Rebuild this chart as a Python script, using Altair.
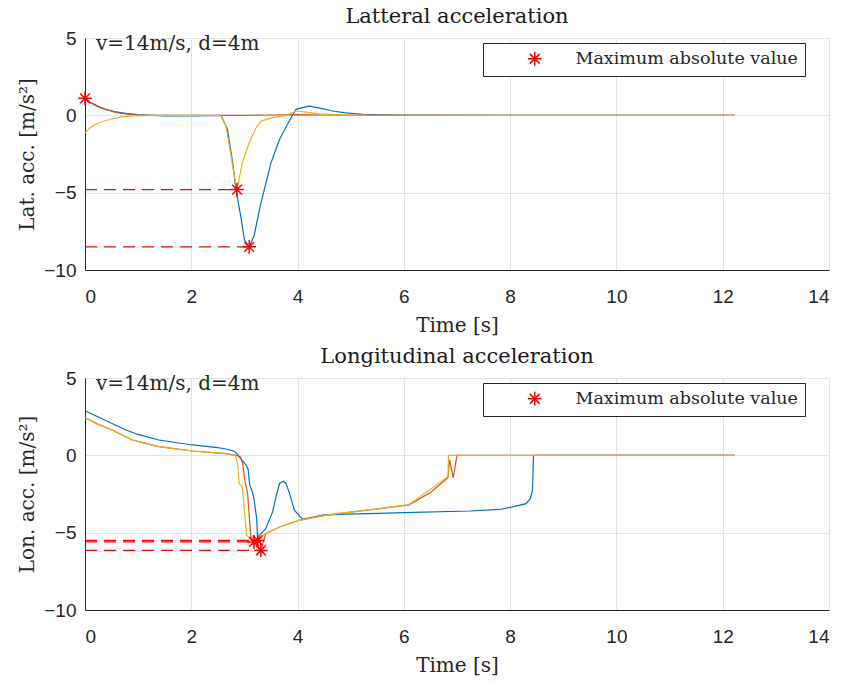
import altair as alt
import pandas as pd

# ---------------- data ----------------
# Lateral acceleration panel
lat_blue_t = [0, 0.1, 0.25, 0.39, 0.55, 0.77, 1.0, 1.5, 2.0, 2.4, 2.56, 2.68, 2.78, 2.84, 2.93, 3.0, 3.09, 3.18, 3.31, 3.5,
              3.66, 3.81, 3.97, 4.09, 4.22, 4.4, 4.66, 4.9, 5.23, 5.6, 6.0, 8.0, 10.0, 12.22]
lat_blue = [1.1, 0.85, 0.58, 0.39, 0.24, 0.13, 0.05, -0.04, -0.03, -0.02, 0.0, -0.9, -3.07, -4.8, -6.5, -8.05, -8.5, -7.8, -5.67, -3.07,
            -1.56, -0.58, 0.39, 0.5, 0.6, 0.48, 0.28, 0.16, 0.07, 0.03, 0.01, 0.0, 0.0, 0.0]
lat_red_t = [0, 0.1, 0.25, 0.4, 0.6, 0.8, 1.0, 2.0, 3.0, 3.5, 4.0, 4.5, 6.0, 12.22]
lat_red = [1.1, 0.82, 0.55, 0.36, 0.18, 0.07, 0.02, 0.0, 0.0, 0.02, 0.05, 0.02, 0.0, 0.0]
lat_yel_t = [0, 0.1, 0.2, 0.35, 0.51, 0.7, 0.89, 1.5, 2.0, 2.55, 2.65, 2.75, 2.81, 2.86, 2.96, 3.09, 3.22, 3.31, 3.53, 3.78,
             3.97, 4.16, 4.41, 4.7, 5.0, 8.0, 12.22]
lat_yel = [-1.13, -0.8, -0.58, -0.38, -0.22, -0.1, -0.03, 0.0, 0.0, 0.0, -0.69, -2.64, -3.94, -4.8, -3.07, -1.77, -0.8, -0.37, -0.15, 0.0,
           0.28, 0.21, 0.1, 0.05, 0.02, 0.0, 0.0]
lat_star_t = [0, 2.86, 3.09]
lat_star_v = [1.1, -4.8, -8.5]

# Longitudinal acceleration panel
lon_blue_t = [0, 0.3, 0.77, 1.0, 1.39, 2.02, 2.5, 2.65, 2.78, 2.85, 2.90, 3.03, 3.07, 3.1, 3.14, 3.18, 3.23, 3.25, 3.30, 3.40,
              3.53, 3.60, 3.66, 3.73, 3.78, 3.84, 3.94, 4.09, 4.3, 4.47, 4.91, 5.35, 6.0, 7.24, 7.8, 8.05, 8.30, 8.38, 8.42, 8.44,
              10.0, 12.22]
lon_blue = [2.88, 2.4, 1.64, 1.35, 0.99, 0.67, 0.5, 0.41, 0.3, 0.15, -0.09, -0.63, -0.9, -1.93, -2.25, -2.79, -4.09, -5.5, -5.1, -4.74,
            -3.66, -2.6, -1.82, -1.67, -1.8, -2.36, -3.55, -4.13, -4.0, -3.87, -3.8, -3.77, -3.7, -3.6, -3.5, -3.33, -3.12, -2.8, -2.25, 0.0,
            0.0, 0.0]
lon_red_t = [0, 0.25, 0.51, 0.89, 1.39, 2.02, 2.65, 2.85, 2.93, 2.97, 3.0, 3.06, 3.12, 3.2, 3.31, 3.40, 3.66, 4.03, 4.54, 5.54,
             6.1, 6.5, 6.83, 6.86, 6.93, 7.0, 10.0, 12.22]
lon_red = [2.45, 2.0, 1.64, 0.99, 0.56, 0.28, 0.11, 0.0, -0.1, -0.6, -1.49, -2.47, -5.28, -5.5, -6.15, -5.06, -4.63, -4.2, -3.87, -3.44,
           -3.2, -2.4, -1.45, -0.3, -1.45, 0.0, 0.0, 0.0]
lon_yel_t = [0, 0.25, 0.51, 0.89, 1.39, 2.02, 2.65, 2.83, 2.87, 2.90, 2.96, 3.04, 3.18, 3.30, 3.40, 3.66, 4.03, 4.54, 5.54, 6.1,
             6.83, 6.84, 10.0, 12.22]
lon_yel = [2.45, 2.0, 1.64, 0.99, 0.56, 0.28, 0.11, -0.02, -0.52, -1.82, -2.03, -5.17, -5.6, -5.3, -5.06, -4.63, -4.2, -3.87, -3.44, -3.18,
           -1.38, 0.0, 0.0, 0.0]
lon_star_t = [3.18, 3.25, 3.31]
lon_star_v = [-5.6, -5.5, -6.15]

x_ticks = [0, 2, 4, 6, 8, 10, 12, 14]
y_ticks = [-10, -5, 0, 5]
legend_label = "Maximum absolute value"
note = "v=14m/s, d=4m"
COLORS = ["#0072BD", "#D95319", "#EDB120"]

STAR = "M-1,0L1,0M0,-1L0,1M-0.71,-0.71L0.71,0.71M-0.71,0.71L0.71,-0.71"
W, H = 744, 232


def panel(title, ylabel, series, star_t, star_v):
    xs = alt.Scale(domain=[0, 14], nice=False, zero=False)
    ys = alt.Scale(domain=[-10, 5], nice=False, zero=False)
    xaxis = alt.Axis(values=x_ticks, title="Time [s]", labelPadding=17, titlePadding=9,
                     grid=True, ticks=False, format="d")
    yaxis = alt.Axis(values=y_ticks, title=ylabel, labelPadding=9, titlePadding=6,
                     grid=True, ticks=False, format="d")
    layers = []
    for (t, v), col in zip(series, COLORS):
        df = pd.DataFrame({"t": t, "v": v})
        layers.append(
            alt.Chart(df).mark_line(color=col, strokeWidth=1.2).encode(
                x=alt.X("t:Q", scale=xs, axis=xaxis),
                y=alt.Y("v:Q", scale=ys, axis=yaxis),
            )
        )
    sdf = pd.DataFrame({"t": star_t, "v": star_v, "t0": [0] * len(star_t),
                        "label": [legend_label] * len(star_t)})
    rules = alt.Chart(sdf).mark_rule(color="#FF0000", stroke="#FF0000", strokeDash=[12, 7],
                                     strokeWidth=1.2, opacity=1).encode(
        x=alt.X("t0:Q", scale=xs, axis=xaxis), x2="t:Q",
        y=alt.Y("v:Q", scale=ys, axis=yaxis),
    )
    stars = alt.Chart(sdf).mark_point(shape=STAR, filled=False, size=190, strokeWidth=1.5, opacity=1).encode(
        x=alt.X("t:Q", scale=xs, axis=xaxis),
        y=alt.Y("v:Q", scale=ys, axis=yaxis),
        color=alt.Color("label:N", scale=alt.Scale(range=["#FF0000"]),
                        legend=alt.Legend(title=None, orient="none", legendX=398, legendY=5,
                                          symbolType=STAR, symbolSize=190, symbolStrokeWidth=1.5,
                                          symbolOffset=36, labelOffset=32, padding=7,
                                          fillColor="white", strokeColor="#262626", cornerRadius=0,
                                          labelFont="DejaVu Serif", labelFontSize=17.5, labelLimit=400,
                                          labelColor="#262626")),
    )
    ndf = pd.DataFrame({"txt": [note]})
    text = alt.Chart(ndf).mark_text(align="left", baseline="alphabetic", font="DejaVu Serif",
                                    fontSize=20, color="#262626").encode(
        x=alt.value(11), y=alt.value(12), text="txt:N")
    return alt.layer(*layers, rules, stars, text).properties(
        width=W, height=H, title=alt.Title(title))


top = panel("Latteral acceleration", "Lat. acc. [m/s²]",
            [(lat_blue_t, lat_blue), (lat_red_t, lat_red), (lat_yel_t, lat_yel)], lat_star_t, lat_star_v)
bottom = panel("Longitudinal acceleration", "Lon. acc. [m/s²]",
               [(lon_blue_t, lon_blue), (lon_red_t, lon_red), (lon_yel_t, lon_yel)], lon_star_t, lon_star_v)

chart = alt.vconcat(top, bottom, spacing=9).resolve_scale(color="independent").resolve_legend(
    color="independent"
).properties(
    padding={"left": 17, "top": 5, "right": 5, "bottom": 2}, background="white"
).configure_view(stroke="#d9d9d9", strokeWidth=1).configure_axis(
    domainColor="#262626", domainWidth=1, gridColor="#e3e3e3", gridWidth=1,
    labelFont="Liberation Sans", labelFontSize=19, labelColor="#262626",
    titleFont="DejaVu Serif", titleFontSize=20, titleFontWeight="normal", titleColor="#262626",
).configure_title(font="DejaVu Serif", fontSize=21, fontWeight="normal", color="#1a1a1a", offset=2)

chart.save("out.html", embed_options={"renderer": "svg", "actions": False})
